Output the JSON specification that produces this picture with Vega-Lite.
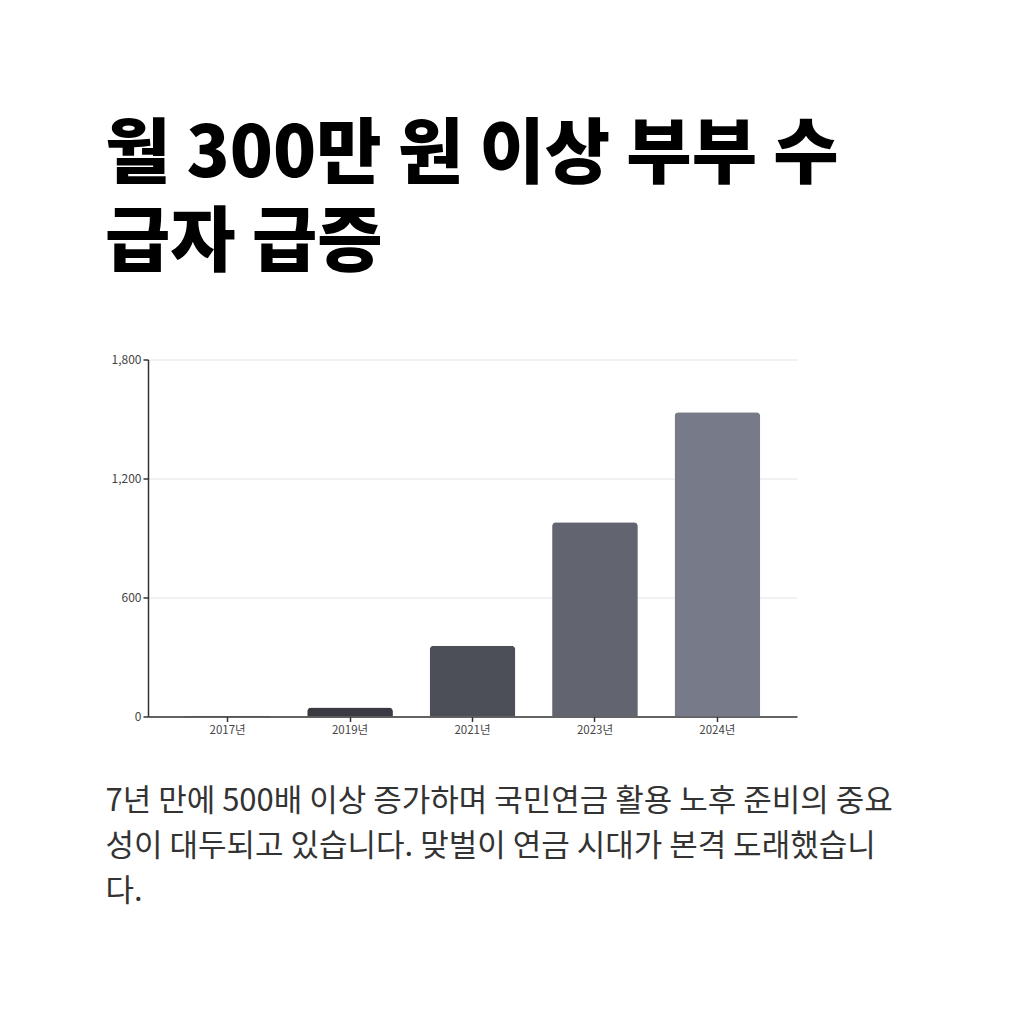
{
  "$schema": "https://vega.github.io/schema/vega-lite/v6.json",
  "width": 649,
  "height": 357,
  "autosize": {"type": "none"},
  "padding": {"left": 148, "top": 359.5, "right": 227, "bottom": 307.5},
  "background": "#ffffff",
  "config": {
    "font": "Noto Sans CJK KR",
    "view": {"stroke": null}
  },
  "title": {
    "text": ["월 300만 원 이상 부부 수", "급자 급증"],
    "anchor": "start",
    "frame": "group",
    "dx": -43,
    "fontSize": 71,
    "fontWeight": 900,
    "lineHeight": 88,
    "color": "#000000",
    "offset": 74
  },
  "data": {
    "values": [
      {"year": "2017년", "count": 3},
      {"year": "2019년", "count": 46},
      {"year": "2021년", "count": 357},
      {"year": "2023년", "count": 979},
      {"year": "2024년", "count": 1534}
    ]
  },
  "mark": {"type": "bar", "cornerRadiusEnd": 4},
  "encoding": {
    "x": {
      "field": "year",
      "type": "nominal",
      "sort": null,
      "scale": {"paddingInner": 0.3, "paddingOuter": 0.3},
      "axis": {
        "labelAngle": 0,
        "labelFontSize": 11.5,
        "labelColor": "#444444",
        "labelPadding": 3,
        "domainColor": "#333333",
        "domainWidth": 1.5,
        "tickColor": "#333333",
        "tickWidth": 1.5,
        "tickSize": 5,
        "title": ["7년 만에 500배 이상 증가하며 국민연금 활용 노후 준비의 중요", "성이 대두되고 있습니다. 맞벌이 연금 시대가 본격 도래했습니", "다."],
        "titleFontSize": 31,
        "titleFontWeight": "normal",
        "titleColor": "#333333",
        "titleLineHeight": 45,
        "titleAlign": "left",
        "titleAnchor": "start",
        "titleBaseline": "alphabetic",
        "titleX": -43,
        "titleY": 94
      }
    },
    "y": {
      "field": "count",
      "type": "quantitative",
      "scale": {"domain": [0, 1800], "nice": false},
      "axis": {
        "values": [0, 600, 1200, 1800],
        "format": ",.0f",
        "title": null,
        "labelFontSize": 12,
        "labelColor": "#444444",
        "domainColor": "#333333",
        "domainWidth": 1.5,
        "tickColor": "#333333",
        "tickWidth": 1.5,
        "tickSize": 5,
        "gridColor": "#e3e3e3",
        "gridWidth": 1
      }
    },
    "color": {
      "field": "year",
      "type": "nominal",
      "legend": null,
      "scale": {
        "domain": ["2017년", "2019년", "2021년", "2023년", "2024년"],
        "range": ["#2b2c31", "#3a3b42", "#4d4f58", "#62646f", "#777a88"]
      }
    }
  }
}
